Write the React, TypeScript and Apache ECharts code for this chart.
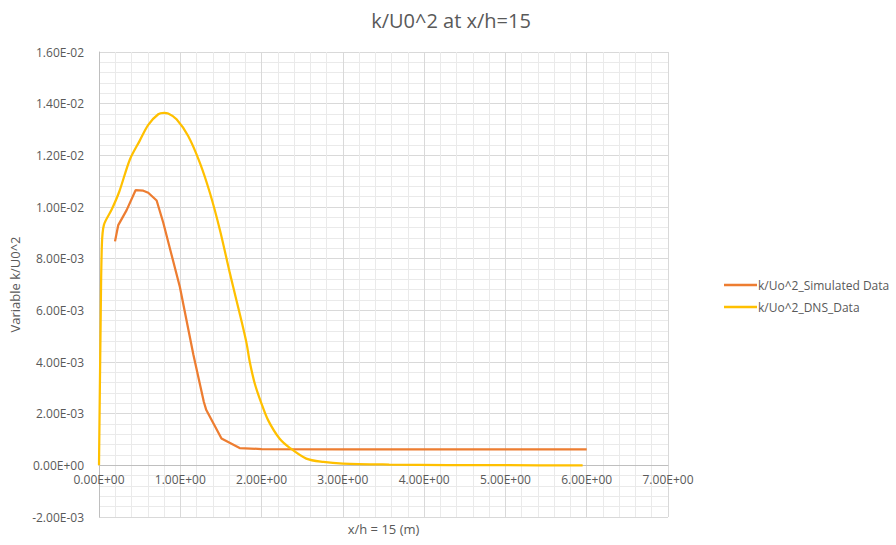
import React, { useEffect, useRef } from "react";
import * as echarts from "echarts";

const titleText = "k/U0^2 at x/h=15";
const xAxisName = "x/h = 15 (m)";
const yAxisName = "Variable k/U0^2";
const seriesNames = ["k/Uo^2_Simulated Data", "k/Uo^2_DNS_Data"];

const simX = [0.197, 0.237, 0.34, 0.45, 0.545, 0.606, 0.709, 0.79, 0.995, 1.16, 1.29, 1.32, 1.507, 1.73, 2.0, 3.0, 4.0, 5.0, 6.0];
const simY = [0.00867, 0.0093, 0.00988, 0.01065, 0.01063, 0.01055, 0.01025, 0.0094, 0.0069, 0.0043, 0.00245, 0.00214, 0.00104, 0.00067, 0.00063, 0.00062, 0.00062, 0.00062, 0.00062];

const dnsX = [0, 0.02, 0.035, 0.06, 0.156, 0.25, 0.38, 0.5, 0.606, 0.729, 0.8, 0.851, 0.954, 1.097, 1.24, 1.364, 1.486, 1.61, 1.69, 1.75, 1.815, 1.855, 1.916, 1.998, 2.08, 2.22, 2.35, 2.55, 2.76, 3.0, 3.57, 4.3, 5.0, 5.95];
const dnsY = [0, 0.0055, 0.0085, 0.0093, 0.0099, 0.0106, 0.01184, 0.01256, 0.01318, 0.01359, 0.01364, 0.01362, 0.0134, 0.01275, 0.01172, 0.01055, 0.00913, 0.00744, 0.0064, 0.00563, 0.00473, 0.0040, 0.00317, 0.0024, 0.00175, 0.00104, 0.00067, 0.00026, 0.00013, 0.000065, 0.00003, 0.00001, 0.000005, 0];

const xMin = 0, xMax = 7, xInterval = 1;
const yMin = -0.002, yMax = 0.016, yInterval = 0.002;

function sci(v: number): string {
  if (Math.abs(v) < 1e-12) return "0.00E+00";
  const s = v.toExponential(2);
  const [m, e] = s.split("e");
  const n = parseInt(e, 10);
  return m + "E" + (n < 0 ? "-" : "+") + String(Math.abs(n)).padStart(2, "0");
}

const FONT = "'Open Sans', 'Noto Sans', sans-serif";
const TXT = "#595959";

const GRID_TOP = 52;
const GRID_BOTTOM = 28;
const CHART_H = 545;

export default function App() {
  const ref = useRef<HTMLDivElement>(null);
  useEffect(() => {
    if (!ref.current) return;
    const chart = echarts.init(ref.current, undefined, { renderer: "svg" });
    const simData = simX.map((x, i) => [x, simY[i]]);
    const dnsData = dnsX.map((x, i) => [x, dnsY[i]]);
    const plotH = CHART_H - GRID_TOP - GRID_BOTTOM;
    const zeroOffset = (plotH * (0 - yMin)) / (yMax - yMin);
    chart.setOption({
      animation: false,
      backgroundColor: "#ffffff",
      textStyle: { fontFamily: FONT },
      title: {
        text: titleText,
        left: 446,
        textAlign: "center",
        top: 5,
        textStyle: { fontFamily: FONT, fontSize: 20, fontWeight: "normal", color: TXT },
      },
      legend: {
        orient: "vertical",
        left: 719,
        top: 274,
        icon: "rect",
        itemWidth: 33,
        itemHeight: 2.5,
        itemGap: 10,
        textStyle: { fontFamily: FONT, fontSize: 12, color: TXT, padding: [0, 0, 0, -4] },
        data: seriesNames,
      },
      grid: { left: 99, right: 228, top: GRID_TOP, bottom: GRID_BOTTOM, containLabel: false, outerBoundsMode: "none" },
      xAxis: {
        type: "value",
        min: xMin,
        max: xMax,
        interval: xInterval,
        position: "bottom",
        offset: -zeroOffset,
        name: xAxisName,
        nameLocation: "middle",
        nameGap: 57,
        nameTextStyle: { fontFamily: FONT, fontSize: 13, color: TXT },
        axisLine: { show: true, onZero: false, lineStyle: { color: "#BFBFBF", width: 1 } },
        axisTick: { show: false },
        axisLabel: { formatter: (v: number) => sci(v), fontFamily: FONT, fontSize: 12, color: TXT, margin: 8 },
        splitLine: { show: true, lineStyle: { color: "#D9D9D9", width: 1 } },
        minorTick: { show: false, splitNumber: 5 },
        minorSplitLine: { show: true, lineStyle: { color: "#EAEAEA", width: 1 } },
      },
      yAxis: {
        type: "value",
        min: yMin,
        max: yMax,
        interval: yInterval,
        name: yAxisName,
        nameLocation: "middle",
        nameGap: 76,
        nameTextStyle: { fontFamily: FONT, fontSize: 13, color: TXT },
        axisLine: { show: true, onZero: false, lineStyle: { color: "#BFBFBF", width: 1 } },
        axisTick: { show: false },
        axisLabel: { formatter: (v: number) => sci(v), fontFamily: FONT, fontSize: 12, color: TXT, margin: 15 },
        splitLine: { show: true, lineStyle: { color: "#D9D9D9", width: 1 } },
        minorTick: { show: false, splitNumber: 5 },
        minorSplitLine: { show: true, lineStyle: { color: "#EAEAEA", width: 1 } },
      },
      series: [
        {
          name: seriesNames[0],
          type: "line",
          data: simData,
          symbol: "none",
          smooth: false,
          lineStyle: { color: "#ED7D31", width: 2.25 },
          itemStyle: { color: "#ED7D31" },
        },
        {
          name: seriesNames[1],
          type: "line",
          data: dnsData,
          symbol: "none",
          smooth: 0.3,
          lineStyle: { color: "#FFC000", width: 2.25 },
          itemStyle: { color: "#FFC000" },
        },
      ],
    });
    return () => chart.dispose();
  }, []);
  return (
    <div
      ref={ref}
      style={{ position: "fixed", left: 0, top: 0, width: 896, height: 545, background: "#fff" }}
    />
  );
}
